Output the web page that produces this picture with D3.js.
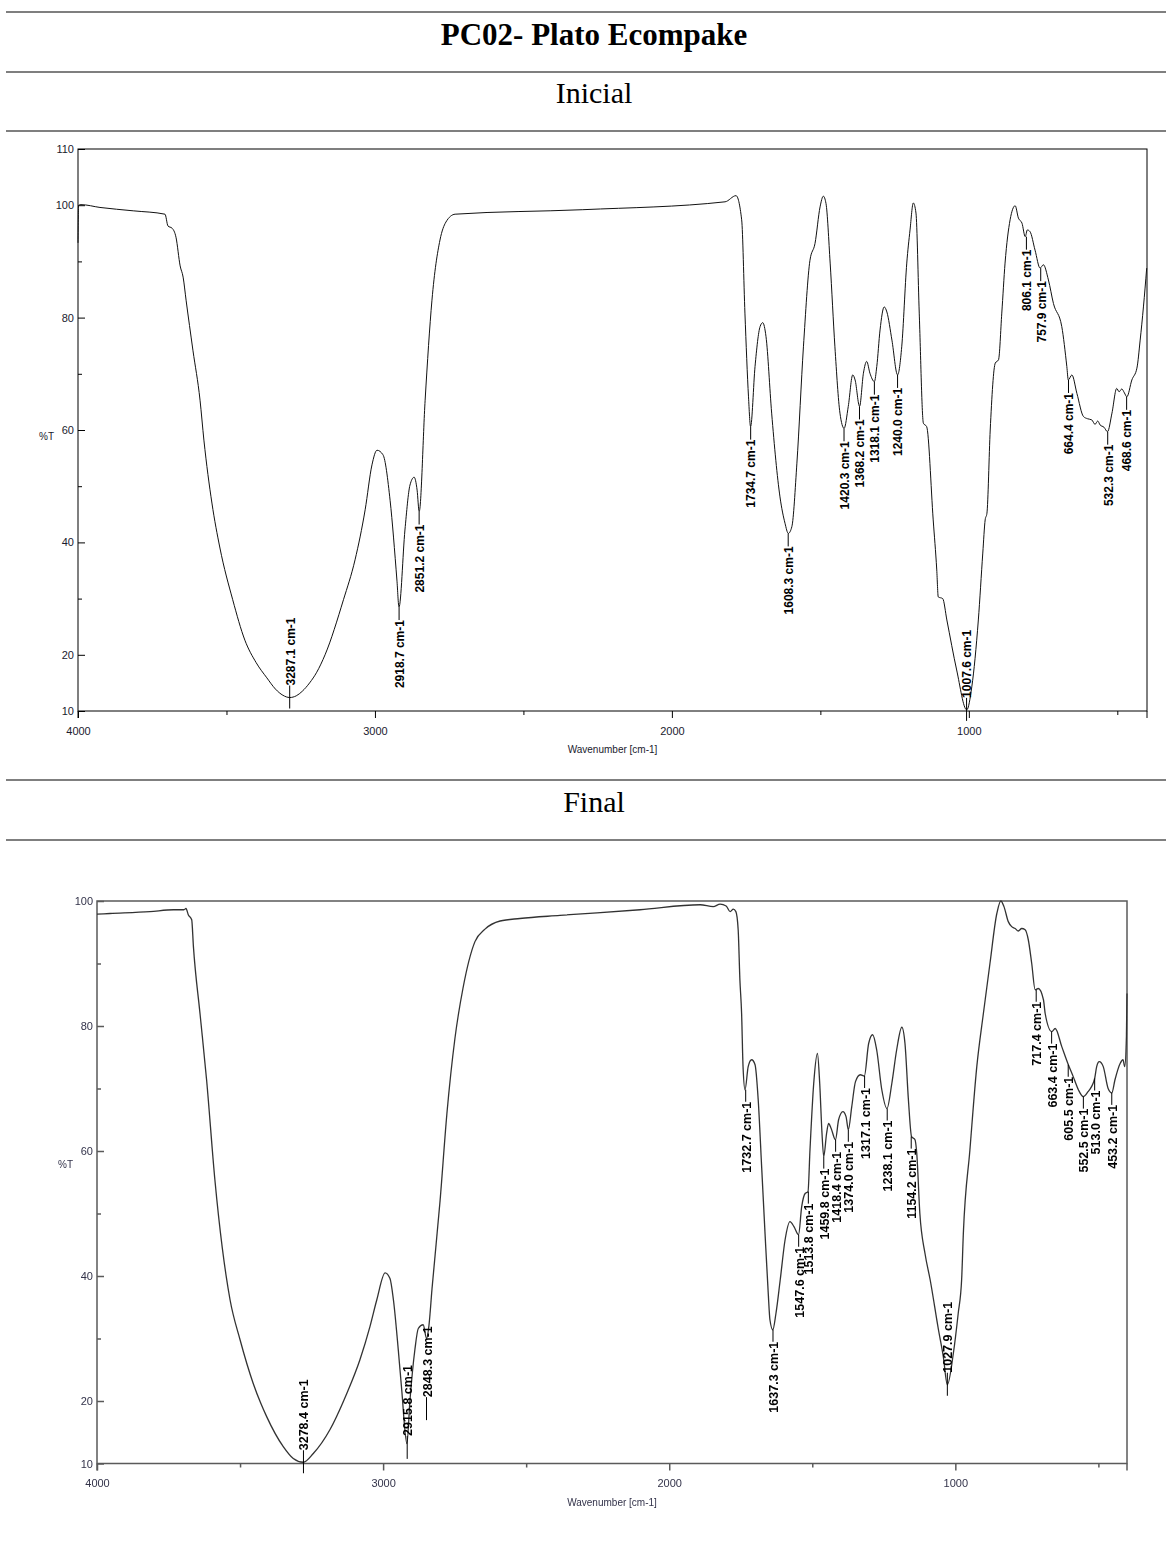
<!DOCTYPE html>
<html>
<head>
<meta charset="utf-8">
<title>PC02- Plato Ecompake</title>
<script src="https://cdn.jsdelivr.net/npm/d3@7"></script>
<style>
  html, body { margin: 0; padding: 0; background: #fff; }
  svg { display: block; }
</style>
</head>
<body>
<svg id="page" width="1166" height="1566"></svg>
<script>
// ---- FT-IR spectra: [wavenumber (cm-1), %T] ----
const inicialSpectrum = [
  [4000, 93.3], [3998, 100.0], [3990, 100.1], [3926, 99.6], [3814, 99.0], [3707, 98.4],
  [3697, 96.3], [3683, 95.9], [3670, 94.3], [3656, 89.2], [3646, 87.2], [3636, 83.1],
  [3613, 74.2], [3589, 65.3], [3576, 58.2], [3549, 47.0], [3522, 39.0], [3479, 29.8],
  [3438, 22.6], [3400, 18.6], [3364, 15.9], [3335, 13.9], [3310, 12.8], [3287, 12.4],
  [3265, 12.7], [3245, 13.5], [3220, 15.0], [3196, 16.9], [3168, 20.0], [3106, 29.8],
  [3067, 36.9], [3033, 45.8], [3010, 53.8], [2993, 56.4], [2973, 55.6], [2949, 47.5],
  [2926, 33.3], [2919, 28.5], [2899, 42.2], [2882, 50.2], [2868, 51.6], [2858, 49.3],
  [2851, 45.5], [2831, 65.3], [2808, 83.1], [2781, 93.8], [2761, 97.0], [2730, 98.4],
  [2300, 99.2], [1821, 100.6], [1784, 101.7],
  [1765, 97.4], [1754, 80.8], [1742, 65.9], [1735, 60.6], [1720, 71.3], [1703, 78.4],
  [1694, 79.1], [1683, 76.6], [1664, 63.0], [1636, 48.1], [1619, 43.4], [1608, 41.6],
  [1596, 42.8], [1579, 54.1], [1557, 74.8], [1535, 90.2], [1518, 93.2], [1501, 99.7],
  [1490, 101.6], [1481, 100.3], [1467, 89.7], [1451, 74.8], [1434, 63.0], [1420, 60.3],
  [1406, 64.2], [1391, 69.8], [1383, 68.9], [1368, 64.2], [1355, 70.1], [1344, 72.2],
  [1333, 70.1], [1318, 68.6], [1310, 71.3], [1299, 77.8], [1285, 81.9], [1276, 81.0],
  [1259, 76.0], [1240, 69.8], [1226, 74.8], [1209, 89.7], [1198, 95.6], [1187, 100.4],
  [1178, 98.6], [1167, 80.8], [1153, 61.2], [1142, 60.6], [1120, 44.0], [1108, 35.1],
  [1103, 30.3], [1088, 30.0], [1074, 26.2], [1041, 17.3], [1007, 10.2], [990, 14.3],
  [968, 26.2], [953, 38.1], [945, 44.0], [939, 45.2], [928, 60.0], [911, 71.9],
  [900, 72.5], [889, 80.8], [878, 89.7], [861, 97.4], [844, 99.9], [833, 97.7],
  [821, 96.8], [810, 94.4], [803, 95.6], [794, 95.3], [777, 92.0], [760, 88.8],
  [749, 89.4], [732, 86.7], [715, 82.5], [687, 78.4], [670, 71.3], [665, 68.9],
  [653, 69.8], [636, 66.5], [614, 62.4], [600, 62.0], [586, 61.8], [575, 61.0],
  [566, 61.6], [558, 60.9], [545, 60.5], [533, 59.7], [518, 63.0], [502, 67.4],
  [494, 66.8], [485, 67.3], [476, 66.6], [468, 65.9], [451, 68.9], [434, 71.0],
  [423, 76.0], [412, 81.9], [401, 88.8]
];

const finalSpectrum = [
  [4000, 97.9], [3955, 98.0], [3815, 98.3], [3733, 98.6], [3696, 98.6], [3689, 98.8],
  [3681, 97.8], [3669, 97.0], [3663, 92.7], [3640, 82.0], [3617, 71.4], [3588, 55.4],
  [3535, 36.2], [3500, 29.8], [3454, 22.8], [3407, 17.5], [3349, 12.7], [3314, 10.8],
  [3279, 10.2], [3244, 11.6], [3186, 15.4], [3127, 21.2], [3081, 26.6], [3046, 31.9],
  [3022, 36.2], [2993, 40.5], [2976, 39.6], [2964, 36.2], [2947, 28.2], [2935, 21.8],
  [2917, 13.2], [2906, 20.2], [2889, 28.2], [2877, 31.6], [2860, 32.2], [2848, 30.0],
  [2840, 32.0], [2829, 38.0], [2801, 52.0], [2777, 66.0], [2749, 78.0], [2721, 86.0],
  [2679, 93.5], [2644, 95.5], [2591, 96.8], [2522, 97.2], [2382, 97.7], [2102, 98.6],
  [1892, 99.4], [1846, 99.1], [1822, 99.5], [1801, 99.2], [1787, 98.3], [1776, 98.7],
  [1767, 98.3], [1759, 95.4], [1753, 87.4], [1747, 82.0], [1742, 73.5], [1735, 69.8],
  [1724, 73.5], [1712, 74.6], [1700, 73.8], [1689, 68.2], [1677, 57.5], [1665, 46.7],
  [1654, 37.3], [1648, 33.0], [1638, 31.4], [1627, 34.0], [1612, 39.4], [1595, 45.8],
  [1578, 48.7], [1564, 47.9], [1548, 46.6], [1537, 51.1], [1525, 53.2], [1515, 53.5],
  [1508, 60.2], [1495, 70.8], [1482, 75.6], [1474, 70.8], [1466, 62.8], [1460, 59.1],
  [1450, 62.8], [1443, 64.4], [1434, 63.6], [1419, 61.8], [1408, 65.0], [1393, 66.3],
  [1382, 65.5], [1374, 63.4], [1362, 67.1], [1349, 71.1], [1332, 72.2], [1318, 72.0],
  [1303, 77.2], [1289, 78.6], [1275, 76.2], [1257, 69.8], [1239, 66.8], [1222, 70.8],
  [1205, 76.2], [1187, 79.8], [1176, 77.2], [1164, 68.2], [1153, 62.3], [1141, 61.8],
  [1135, 59.7], [1124, 50.0], [1106, 43.6], [1088, 39.4], [1059, 31.4], [1042, 27.1],
  [1028, 22.6], [1007, 27.6], [990, 34.0], [978, 39.4], [972, 46.8], [949, 60.2],
  [925, 73.5], [902, 82.0], [879, 90.0], [855, 98.0], [841, 100.0], [830, 99.1],
  [815, 96.7], [803, 95.9], [791, 95.6], [780, 95.2], [768, 95.6], [756, 95.4],
  [745, 93.8], [733, 90.0], [721, 85.8], [710, 86.0], [692, 84.2], [686, 82.0],
  [663, 79.1], [651, 79.6], [628, 76.7], [605, 73.8], [588, 71.9], [570, 69.8],
  [553, 68.7], [536, 69.5], [524, 70.3], [513, 71.6], [506, 73.5], [497, 74.3],
  [483, 73.5], [466, 70.0], [453, 69.3], [442, 71.4], [424, 74.0], [414, 74.6],
  [408, 73.5], [402, 78.3], [400, 85.2]
];

// ---- picked peaks: [wavenumber, %T at the marker, label side] ----
const inicialPeaks = [
  [3287.1, 12.4, "up"], [2918.7, 28.5, "down"], [2851.2, 45.5, "down"],
  [1734.7, 60.6, "down"], [1608.3, 41.6, "down"], [1420.3, 60.3, "down"],
  [1368.2, 64.2, "down"], [1318.1, 68.6, "down"], [1240.0, 69.8, "down"],
  [1007.6, 10.2, "up"], [806.1, 94.4, "down"], [757.9, 88.8, "down"],
  [664.4, 68.9, "down"], [532.3, 59.7, "down"], [468.6, 65.9, "down"]
];

const finalPeaks = [
  [3278.4, 10.2, "up"], [2915.8, 12.5, "up"], [2848.3, 18.7, "up"],
  [1732.7, 69.8, "down"], [1637.3, 31.4, "down"], [1547.6, 46.6, "down"],
  [1513.8, 53.5, "down"], [1459.8, 59.1, "down"], [1418.4, 61.8, "down"],
  [1374.0, 63.4, "down"], [1317.1, 72.0, "down"], [1238.1, 66.8, "down"],
  [1154.2, 62.3, "down"], [1027.9, 22.6, "up"], [717.4, 85.8, "down"],
  [663.4, 79.1, "down"], [605.5, 73.8, "down"], [552.5, 68.7, "down"],
  [513.0, 71.6, "down"], [453.2, 69.3, "down"]
];

// ---- axis ticks ----
const xMajorTicks = [4000, 3000, 2000, 1000];
const xMinorTicks = [3500, 2500, 1500, 500];
const yMajorTicksInicial = [110, 100, 80, 60, 40, 20, 10];
const yMajorTicksFinal = [100, 80, 60, 40, 20, 10];
const yMinorTicks = [90, 70, 50, 30];
const xDomain = [4000, 400];

// ---- page headings ----
const titleText = "PC02- Plato Ecompake";
const sectionNames = ["Inicial", "Final"];

const svg = d3.select("#page");
const serif = "'Liberation Serif', 'Times New Roman', Times, serif";
const sans = "'Liberation Sans', Arial, Helvetica, sans-serif";

// horizontal rules of the heading table
[12, 72, 131, 780, 840].forEach(yy => {
  svg.append("line")
    .attr("x1", 6).attr("x2", 1166).attr("y1", yy).attr("y2", yy)
    .attr("stroke", "#7f7f7f").attr("stroke-width", 2);
});

svg.append("text")
  .attr("x", 594).attr("y", 45)
  .attr("text-anchor", "middle")
  .attr("font-family", serif).attr("font-weight", "bold").attr("font-size", 31)
  .text(titleText);

svg.append("text")
  .attr("x", 594).attr("y", 103)
  .attr("text-anchor", "middle")
  .attr("font-family", serif).attr("font-size", 30)
  .text(sectionNames[0]);

svg.append("text")
  .attr("x", 594).attr("y", 812)
  .attr("text-anchor", "middle")
  .attr("font-family", serif).attr("font-size", 30)
  .text(sectionNames[1]);

// blur used for the softer second panel
const defs = svg.append("defs");
defs.append("filter").attr("id", "soft")
  .attr("x", "-2%").attr("y", "-2%").attr("width", "104%").attr("height", "104%")
  .append("feGaussianBlur").attr("stdDeviation", 0.55);

function drawSpectrum(opts) {
  const g = svg.append("g");
  if (opts.filter) g.attr("filter", opts.filter);

  const x = d3.scaleLinear().domain(xDomain).range([opts.left, opts.right]);
  const y = d3.scaleLinear().domain(opts.yDomain).range([opts.bottom, opts.top]);

  // frame
  g.append("rect")
    .attr("x", opts.left).attr("y", opts.top)
    .attr("width", opts.right - opts.left).attr("height", opts.bottom - opts.top)
    .attr("fill", "none").attr("stroke", opts.frameColor).attr("stroke-width", opts.frameWidth);

  // short extensions of the side edges below the frame
  [opts.left, opts.right].forEach(xx => {
    g.append("line").attr("x1", xx).attr("x2", xx)
      .attr("y1", opts.bottom).attr("y2", opts.bottom + 7)
      .attr("stroke", opts.frameColor).attr("stroke-width", opts.frameWidth);
  });

  // x axis: major and minor ticks pointing out
  const xAxis = d3.axisBottom(x).tickValues(xMajorTicks).tickSize(7).tickPadding(9)
    .tickFormat(d3.format("d"));
  const xg = g.append("g").attr("transform", `translate(0,${opts.bottom})`).call(xAxis);
  const xAxisMinor = d3.axisBottom(x).tickValues(xMinorTicks).tickSize(4).tickFormat("");
  const xgm = g.append("g").attr("transform", `translate(0,${opts.bottom})`).call(xAxisMinor);

  // y axis: ticks pointing in, labels outside
  const yAxis = d3.axisLeft(y).tickValues(opts.yTicks).tickSize(-7).tickPadding(4)
    .tickFormat(d3.format("d"));
  const yg = g.append("g").attr("transform", `translate(${opts.left},0)`).call(yAxis);
  const yAxisMinor = d3.axisLeft(y).tickValues(yMinorTicks).tickSize(-4).tickFormat("");
  const ygm = g.append("g").attr("transform", `translate(${opts.left},0)`).call(yAxisMinor);

  [xg, xgm, yg, ygm].forEach(a => {
    a.select(".domain").remove();
    a.selectAll(".tick line").attr("stroke", opts.frameColor).attr("stroke-width", opts.frameWidth);
    a.selectAll(".tick text")
      .attr("font-family", sans).attr("font-size", 11).attr("fill", opts.tickColor);
  });

  g.append("text")
    .attr("x", (opts.left + opts.right) / 2).attr("y", opts.bottom + 42)
    .attr("text-anchor", "middle")
    .attr("font-family", sans).attr("font-size", 10).attr("fill", opts.tickColor)
    .text("Wavenumber [cm-1]");

  g.append("text")
    .attr("x", opts.left - 24).attr("y", y(opts.unitAt) + 4)
    .attr("text-anchor", "end")
    .attr("font-family", sans).attr("font-size", 10).attr("fill", opts.tickColor)
    .text("%T");

  // spectrum trace
  const line = d3.line().x(d => x(d[0])).y(d => y(d[1])).curve(d3.curveMonotoneX);
  g.append("path")
    .datum(opts.data)
    .attr("d", line)
    .attr("fill", "none")
    .attr("stroke", opts.lineColor)
    .attr("stroke-width", opts.lineWidth)
    .attr("stroke-linejoin", "round");

  // peak markers and rotated labels
  const fmt = d3.format(".1f");
  opts.peaks.forEach(([wn, t, side]) => {
    const px = x(wn), py = y(t);
    let ty, anchor;
    if (side === "down") {
      g.append("line").attr("x1", px).attr("x2", px)
        .attr("y1", py).attr("y2", py + opts.gap)
        .attr("stroke", "#000").attr("stroke-width", 1);
      ty = py + opts.gap; anchor = "end";
    } else {
      g.append("line").attr("x1", px).attr("x2", px)
        .attr("y1", py - 12).attr("y2", py + 11)
        .attr("stroke", "#000").attr("stroke-width", 1);
      ty = py - 12; anchor = "start";
    }
    g.append("text")
      .attr("transform", `translate(${px + 0.5},${ty}) rotate(-90)`)
      .attr("text-anchor", anchor)
      .attr("dy", "0.36em")
      .attr("font-family", sans).attr("font-weight", "bold")
      .attr("font-size", opts.labelSize).attr("fill", "#000")
      .text(fmt(wn) + " cm-1");
  });
}

drawSpectrum({
  data: inicialSpectrum, peaks: inicialPeaks,
  left: 78, right: 1147, top: 149, bottom: 711,
  yDomain: [10, 110], yTicks: yMajorTicksInicial, unitAt: 59,
  frameColor: "#000", frameWidth: 1, tickColor: "#1a1a2e",
  lineColor: "#111", lineWidth: 1, gap: 13, labelSize: 12
});

drawSpectrum({
  data: finalSpectrum, peaks: finalPeaks,
  left: 97, right: 1127, top: 901, bottom: 1463.5,
  yDomain: [10, 100], yTicks: yMajorTicksFinal, unitAt: 58,
  frameColor: "#5a5a5a", frameWidth: 1.5, tickColor: "#33334a",
  lineColor: "#333", lineWidth: 1.3, gap: 12, labelSize: 12.5,
  filter: "url(#soft)"
});
</script>
</body>
</html>
